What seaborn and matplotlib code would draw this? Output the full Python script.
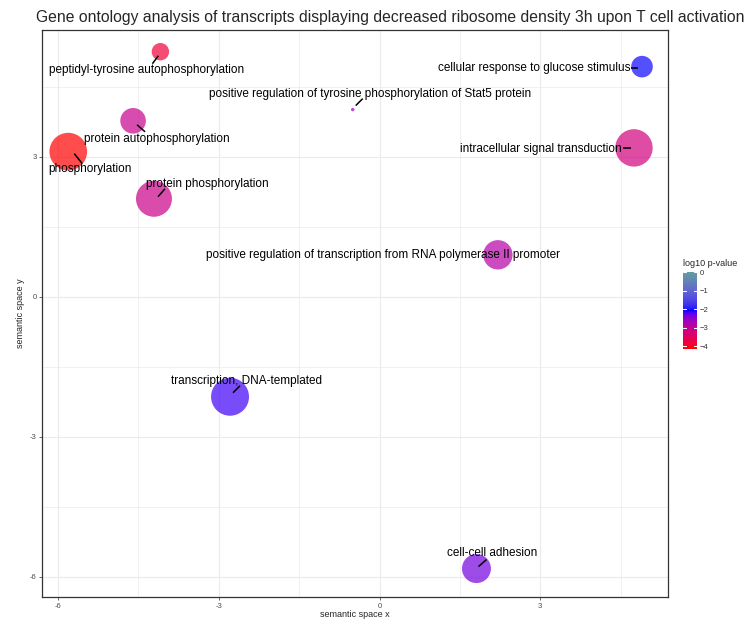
import numpy as np
import pandas as pd
import matplotlib
matplotlib.use("Agg")
import matplotlib.pyplot as plt
from matplotlib.colors import ListedColormap, Normalize, to_rgb
from matplotlib.cm import ScalarMappable
import seaborn as sns

# GO terms and their semantic-space coordinates
terms = [
    "phosphorylation",
    "peptidyl-tyrosine autophosphorylation",
    "protein autophosphorylation",
    "protein phosphorylation",
    "positive regulation of tyrosine phosphorylation of Stat5 protein",
    "cellular response to glucose stimulus",
    "intracellular signal transduction",
    "positive regulation of transcription from RNA polymerase II promoter",
    "transcription, DNA-templated",
    "cell-cell adhesion",
]
plot_x = [-5.81, -4.09, -4.60, -4.21, -0.50, 4.90, 4.75, 2.21, -2.79, 1.81]
plot_y = [3.11, 5.25, 3.77, 2.10, 4.01, 4.93, 3.19, 0.90, -2.14, -5.82]
log10_p = [-4.15, -3.80, -3.05, -3.10, -2.60, -2.05, -3.20, -2.85, -2.15, -2.35]
plot_size = [3.55, 0.76, 1.64, 3.24, 0.03, 1.17, 3.50, 2.16, 3.61, 2.10]

x_ticks = [-6, -3, 0, 3]
y_ticks = [-6, -3, 0, 3]
cbar_ticks = [0, -1, -2, -3, -4]

df = pd.DataFrame({"term": terms, "x": plot_x, "y": plot_y,
                   "log10_p": log10_p, "size": plot_size})

# label placement: text position (data coords), alignment, and the repel
# connector as (start, end) pixel offsets from the bubble centre (y downwards)
label_layout = {
    "phosphorylation": (-5.40, 2.74, "center", (6, 2, 14, 12)),
    "peptidyl-tyrosine autophosphorylation": (-4.34, 4.86, "center", (-2, 4, -8, 12)),
    "protein autophosphorylation": (-4.15, 3.39, "center", (4, 4, 12, 11)),
    "protein phosphorylation": (-3.22, 2.42, "center", (4, -2, 11, -10)),
    "positive regulation of tyrosine phosphorylation of Stat5 protein": (-0.17, 4.35, "center", (3, -4, 10, -11)),
    "cellular response to glucose stimulus": (4.69, 4.91, "right", (-4, 1, -11, 1)),
    "intracellular signal transduction": (4.52, 3.17, "right", (-3, 0, -11, 0)),
    "positive regulation of transcription from RNA polymerase II promoter": (0.06, 0.90, "center", None),
    "transcription, DNA-templated": (-2.49, -1.80, "center", (3, -4, 10, -11)),
    "cell-cell adhesion": (2.11, -5.48, "center", (2, -2, 10, -9)),
}


# colour gradient red -> blue -> cadetblue interpolated in CIE Lab
def _srgb_to_lab(rgb):
    rgb = np.asarray(rgb, float)
    lin = np.where(rgb <= 0.04045, rgb / 12.92, ((rgb + 0.055) / 1.055) ** 2.4)
    m = np.array([[0.4124, 0.3576, 0.1805],
                  [0.2126, 0.7152, 0.0722],
                  [0.0193, 0.1192, 0.9505]])
    xyz = m @ lin / np.array([0.95047, 1.0, 1.08883])
    f = np.where(xyz > 0.008856, np.cbrt(xyz), 7.787 * xyz + 16 / 116)
    return np.array([116 * f[1] - 16, 500 * (f[0] - f[1]), 200 * (f[1] - f[2])])


def _lab_to_srgb(lab):
    L, a, b = lab
    fy = (L + 16) / 116
    fx = fy + a / 500
    fz = fy - b / 200
    f = np.array([fx, fy, fz])
    xyz = np.where(f ** 3 > 0.008856, f ** 3, (f - 16 / 116) / 7.787)
    xyz = xyz * np.array([0.95047, 1.0, 1.08883])
    minv = np.array([[3.2406, -1.5372, -0.4986],
                     [-0.9689, 1.8758, 0.0415],
                     [0.0557, -0.2040, 1.0570]])
    lin = minv @ xyz
    rgb = np.where(lin <= 0.0031308, 12.92 * lin, 1.055 * np.clip(lin, 0, None) ** (1 / 2.4) - 0.055)
    return np.clip(rgb, 0, 1)


anchors = [to_rgb("red"), to_rgb("blue"), to_rgb("cadetblue")]
labs = [_srgb_to_lab(c) for c in anchors]
cols = []
for t in np.linspace(0, 1, 256):
    seg = min(int(t * 2), 1)
    u = t * 2 - seg
    cols.append(_lab_to_srgb((1 - u) * labs[seg] + u * labs[seg + 1]))
cmap = ListedColormap(cols)
norm = Normalize(vmin=min(log10_p), vmax=0.0)

sns.set_theme(style="white")
plt.rcParams["font.family"] = ["Liberation Sans", "DejaVu Sans"]

fig = plt.figure(figsize=(7.5, 6.2), dpi=100)
ax = fig.add_axes([0.056, 0.037, 0.835, 0.915])

sns.scatterplot(data=df, x="x", y="y", hue="log10_p", palette=cmap, hue_norm=norm,
                size="size", sizes=(0, 828), size_norm=(0, 4.0),
                alpha=0.7, linewidth=0, legend=False, ax=ax, zorder=3)

ax.set_xlim(-6.3, 5.39)
ax.set_ylim(-6.43, 5.72)
ax.set_xticks(x_ticks)
ax.set_yticks(y_ticks)
ax.set_xticklabels([str(v) for v in x_ticks])
ax.set_yticklabels([str(v) for v in y_ticks])
ax.set_xticks([-4.5, -1.5, 1.5, 4.5], minor=True)
ax.set_yticks([-4.5, -1.5, 1.5, 4.5], minor=True)
ax.grid(which="major", color="#ebebeb", linewidth=0.8, zorder=0)
ax.grid(which="minor", color="#ebebeb", linewidth=0.5, zorder=0)
ax.set_axisbelow(True)
ax.tick_params(which="major", direction="out", length=2.5, width=0.5, color="#333333",
               labelsize=5.5, labelcolor="#4d4d4d", pad=1.5, bottom=True, left=True)
ax.tick_params(which="minor", length=0)
for sp in ax.spines.values():
    sp.set_color("#333333")
    sp.set_linewidth(0.9)
ax.set_xlabel("semantic space x", fontsize=6.5, labelpad=0.5)
ax.set_ylabel("semantic space y", fontsize=6.5, labelpad=3.5)

for term, px, py in zip(terms, plot_x, plot_y):
    tx, ty, ha, conn = label_layout[term]
    ax.text(tx, ty, term, fontsize=8.5, ha=ha, va="center", color="black", zorder=5)
    if conn is None:
        continue
    # connector drawn in screen space relative to the bubble centre
    p = ax.transData.transform((px, py))
    sx, sy, ex, ey = conn
    pts = np.array([[p[0] + sx, p[1] - sy], [p[0] + ex, p[1] - ey]])
    seg = ax.transData.inverted().transform(pts)
    ax.plot(seg[:, 0], seg[:, 1], color="black", linewidth=1.1, zorder=4,
            solid_capstyle="butt")

fig.text(0.521, 0.972, "Gene ontology analysis of transcripts displaying decreased ribosome "
         "density 3h upon T cell activation", ha="center", va="center", fontsize=11.3)

# colour bar legend
cax = fig.add_axes([0.911, 0.437, 0.0187, 0.124])
sm = ScalarMappable(norm=norm, cmap=cmap)
cb = fig.colorbar(sm, cax=cax, ticks=cbar_ticks)
cb.outline.set_visible(False)
cax.tick_params(length=0, labelsize=5.5, labelcolor="#333333", pad=2)
for v in cbar_ticks:
    cax.plot([0, 0.2], [v, v], color="white", linewidth=0.8, transform=cax.get_yaxis_transform())
    cax.plot([0.8, 1.0], [v, v], color="white", linewidth=0.8, transform=cax.get_yaxis_transform())
fig.text(0.911, 0.568, "log10 p-value", fontsize=6.5, ha="left", va="bottom")

fig.savefig("out.png", dpi=100)
